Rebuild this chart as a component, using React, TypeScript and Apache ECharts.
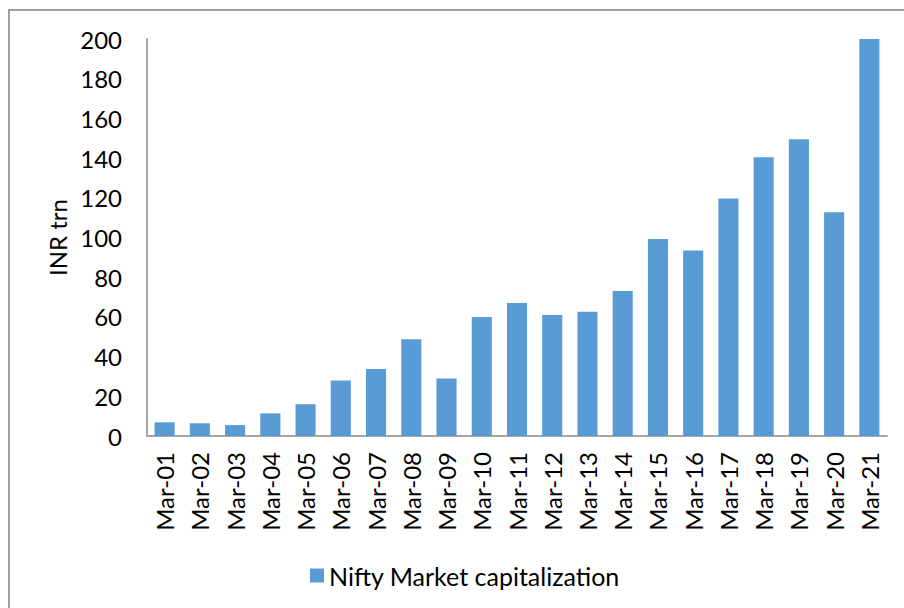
import React, { useEffect, useRef } from "react";
import * as echarts from "echarts";

const categories = [
  "Mar-01", "Mar-02", "Mar-03", "Mar-04", "Mar-05", "Mar-06", "Mar-07",
  "Mar-08", "Mar-09", "Mar-10", "Mar-11", "Mar-12", "Mar-13", "Mar-14",
  "Mar-15", "Mar-16", "Mar-17", "Mar-18", "Mar-19", "Mar-20", "Mar-21",
];
const marketCap = [
  6.9, 6.4, 5.5, 11.4, 16, 28, 33.8, 48.7, 29, 60, 67, 61, 62.6, 73,
  99.3, 93.4, 119.7, 140.4, 149.5, 112.7, 200,
];
const seriesName = "Nifty Market capitalization";
const yAxisName = "INR trn";

const FONT = "Lato, 'Open Sans', sans-serif";

export default function App() {
  const ref = useRef<HTMLDivElement>(null);
  useEffect(() => {
    if (!ref.current) return;
    const chart = echarts.init(ref.current, null, { renderer: "svg" });
    chart.setOption({
      animation: false,
      backgroundColor: "#ffffff",
      textStyle: { fontFamily: FONT, color: "#000" },
      grid: { left: 137, top: 28, width: 740, height: 397, containLabel: false },
      legend: {
        data: [seriesName],
        left: 295,
        top: 547,
        itemWidth: 14,
        itemHeight: 14,
        icon: "rect",
        textStyle: { fontFamily: FONT, fontSize: 25, color: "#000" },
      },
      xAxis: {
        type: "category",
        data: categories,
        axisLine: { lineStyle: { color: "#A6A6A6", width: 2 } },
        axisTick: { show: false },
        axisLabel: {
          rotate: 90,
          margin: 16,
          fontFamily: FONT,
          fontSize: 24,
          color: "#000",
          interval: 0,
        },
      },
      yAxis: {
        type: "value",
        min: 0,
        max: 200,
        interval: 20,
        name: yAxisName,
        nameLocation: "middle",
        nameGap: 76,
        nameRotate: 90,
        nameTextStyle: { fontFamily: FONT, fontSize: 24, color: "#000" },
        axisLine: { show: true, lineStyle: { color: "#A6A6A6", width: 2 } },
        axisTick: { show: false },
        splitLine: { show: false },
        axisLabel: { margin: 25, fontFamily: FONT, fontSize: 24, color: "#000" },
      },
      series: [
        {
          name: seriesName,
          type: "bar",
          data: marketCap,
          barCategoryGap: "43%",
          itemStyle: { color: "#5B9BD5" },
        },
      ],
    });
    return () => chart.dispose();
  }, []);
  return (
    <div
      style={{
        position: "fixed",
        left: 8,
        top: 9,
        width: 896,
        height: 599,
        borderLeft: "2px solid #A0A0A0",
        borderTop: "2px solid #A0A0A0",
        boxSizing: "border-box",
      }}
    >
      <div ref={ref} style={{ width: 894, height: 597 }} />
    </div>
  );
}
